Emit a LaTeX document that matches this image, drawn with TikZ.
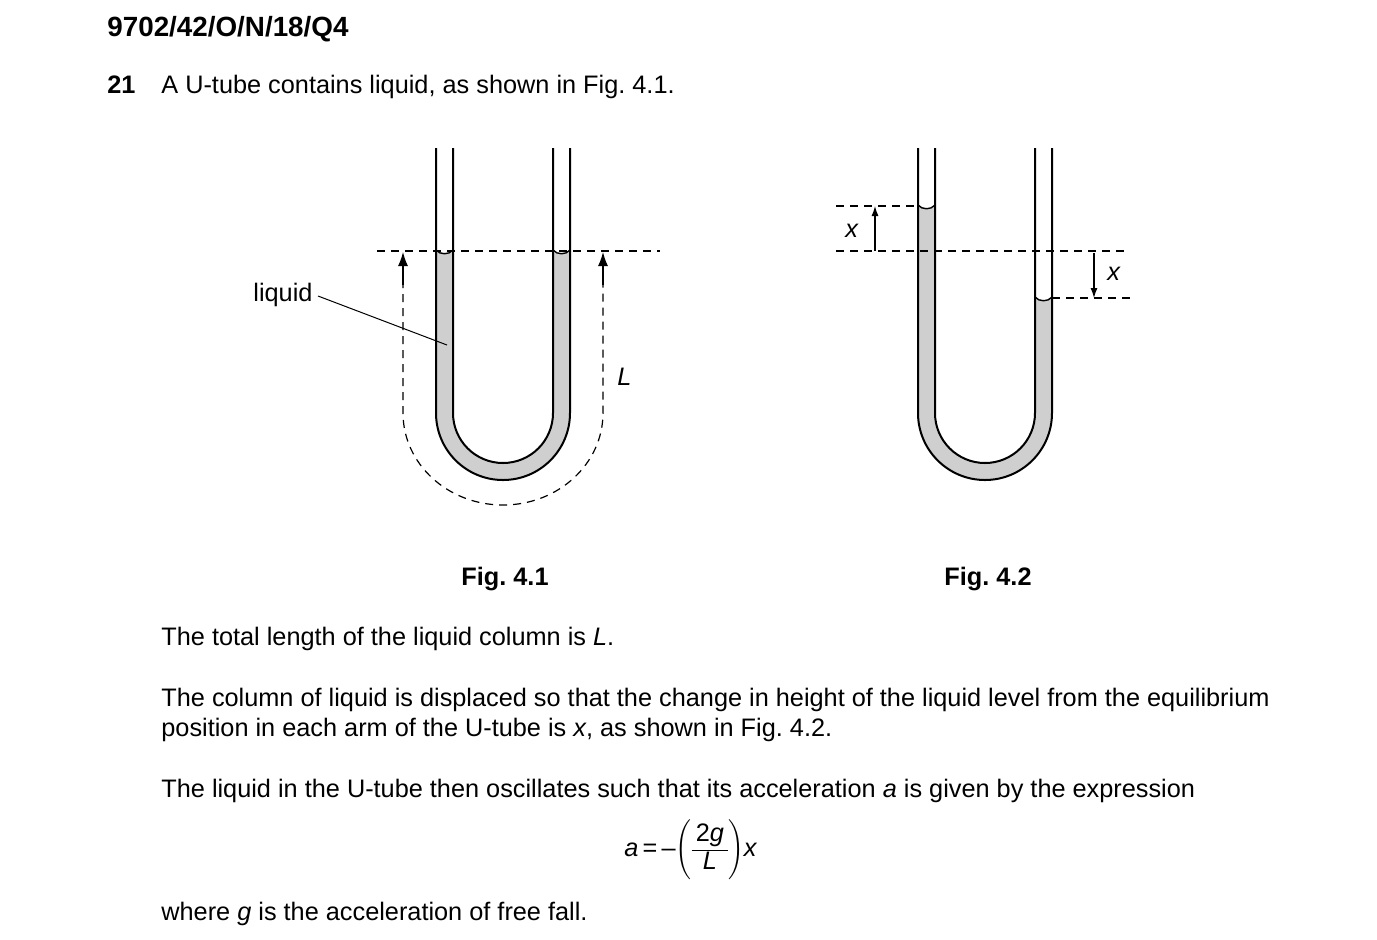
\documentclass[tikz,border=0pt]{standalone}
\usepackage{fontspec}
\setmainfont{Liberation Sans}
\usetikzlibrary{arrows.meta}
\frenchspacing
\begin{document}
\begin{tikzpicture}[x=0.5pt,y=-0.5pt,
  wall/.style={line width=1pt},
  dsh/.style={dashed,dash pattern=on 4pt off 3pt,line width=0.6pt},
  liq/.style={fill=black!19},
  arr/.style={-{Latex[length=5pt,width=3.5pt]},line width=0.6pt},
  bigarr/.style={-{Latex[length=7pt,width=5pt]},line width=0.6pt},
  txt/.style={anchor=base west,inner sep=0,font=\fontsize{12.65}{15}\selectfont},
  ctr/.style={anchor=base,inner sep=0,font=\fontsize{12.65}{15}\selectfont}]
\useasboundingbox (0,0) rectangle (1377,939);
% header
\node[txt,font=\fontsize{13.9}{15}\selectfont\bfseries] (hd) at (107,36) {9702/42/O/N/18/Q4};
\node[txt,font=\fontsize{12.65}{15}\selectfont\bfseries] (num) at (107,93) {21};
\node[txt] (q) at (161,93) {A U-tube contains liquid, as shown in Fig. 4.1.};
% ---------- Fig 4.1
\fill[liq] (436,250) .. controls (440,255) and (449,255) .. (453,250) -- (453,413) arc(180:0:50) -- (553,250)
  .. controls (557,255) and (566,255) .. (570,250) -- (570,413) arc(0:180:67) -- cycle;
\draw[wall] (436,148) -- (436,413) arc(180:0:67) -- (570,148);
\draw[wall] (453,148) -- (453,413) arc(180:0:50) -- (553,148);
\draw[line width=0.7pt] (436,250) .. controls (440,255) and (449,255) .. (453,250);
\draw[line width=0.7pt] (553,250) .. controls (557,255) and (566,255) .. (570,250);
\draw[dsh] (377,251) -- (660,251);
\coordinate (la) at (403,252);
\coordinate (ra) at (603,252);
\draw[dsh] (403,280) -- (403,413) arc[start angle=180,end angle=0,x radius=100,y radius=92] -- (603,280);
\draw[bigarr] (403,285) -- (la);
\draw[bigarr] (603,285) -- (ra);
\node[txt] (liqlab) at (253,301) {liquid};
\coordinate (lp) at (447,345);
\draw[line width=0.5pt] (318,296) -- (lp);
\node[txt,font=\fontsize{12.65}{15}\selectfont\itshape] (Llab) at (617,385) {L};
\node[ctr,font=\fontsize{12.65}{15}\selectfont\bfseries] (f1) at (505,585) {Fig. 4.1};
% ---------- Fig 4.2
\fill[liq] (918,205) .. controls (922,210) and (931,210) .. (935,205) -- (935,413) arc(180:0:50) -- (1035,297)
  .. controls (1039,302) and (1048,302) .. (1052,297) -- (1052,413) arc(0:180:67) -- cycle;
\draw[wall] (918,148) -- (918,413) arc(180:0:67) -- (1052,148);
\draw[wall] (935,148) -- (935,413) arc(180:0:50) -- (1035,148);
\draw[line width=0.7pt] (918,205) .. controls (922,210) and (931,210) .. (935,205);
\draw[line width=0.7pt] (1035,297) .. controls (1039,302) and (1048,302) .. (1052,297);
\draw[dsh] (836,251) -- (1125,251);
\draw[dsh] (836,206) -- (918,206);
\draw[dsh] (1052,298) -- (1130,298);
\coordinate (ua) at (875,251);
\coordinate (ub) at (875,206);
\coordinate (da) at (1094,253);
\coordinate (db) at (1094,298);
\draw[arr] (ua) -- (ub);
\draw[arr] (da) -- (db);
\node[txt,font=\fontsize{12.65}{15}\selectfont\itshape] (x1) at (845,237) {x};
\node[txt,font=\fontsize{12.65}{15}\selectfont\itshape] (x2) at (1107,280) {x};
\node[ctr,font=\fontsize{12.65}{15}\selectfont\bfseries] (f2) at (988,585) {Fig. 4.2};
% ---------- text
\node[txt] (p1) at (161,645) {The total length of the liquid column is \textit{L}.};
\node[txt] (p2) at (161,706) {The column of liquid is displaced so that the change in height of the liquid level from the equilibrium};
\node[txt] (p3) at (161,736) {position in each arm of the U-tube is \textit{x}, as shown in Fig. 4.2.};
\node[txt] (p4) at (161,797) {The liquid in the U-tube then oscillates such that its acceleration \textit{a} is given by the expression};
\node[anchor=west,inner sep=0,font=\fontsize{12.65}{15}\selectfont] (eq) at (624,850)
  {\textit{a}\,=\,–$\left(\vcenter{\hbox{\renewcommand\arraystretch{0.9}\begin{tabular}{@{\,}c@{\,}}2\textit{g}\\\hline\textit{L}\end{tabular}}}\right)$\textit{x}};
\node[txt] (p5) at (161,920) {where \textit{g} is the acceleration of free fall.};
\end{tikzpicture}
\end{document}
